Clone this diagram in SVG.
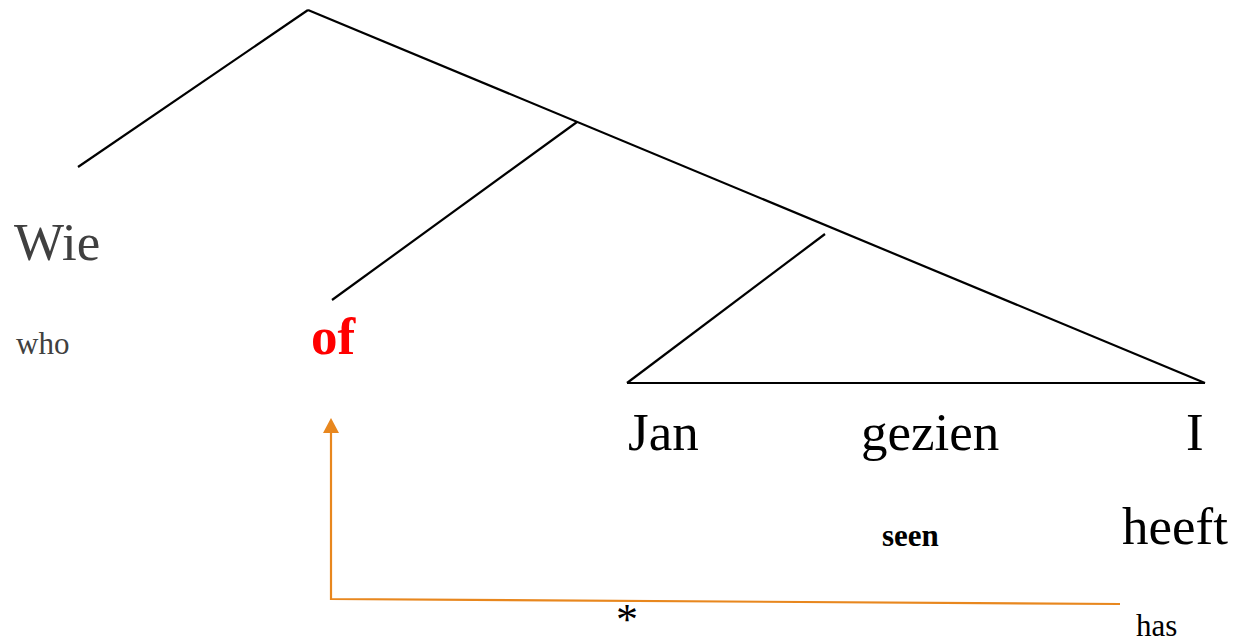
<svg xmlns="http://www.w3.org/2000/svg" width="1237" height="644" viewBox="0 0 1237 644">
<style>
.t{font-family:"Liberation Serif","Times New Roman",serif}
.big{font-size:53px}
.small{font-size:31px}
.edge{stroke:#000;stroke-width:2.2;fill:none}
.move{stroke:#E8871E;stroke-width:2.2;fill:none}
</style>
<rect width="1237" height="644" fill="#fff"/>
<g id="connectors">
<line class="edge" x1="308" y1="10" x2="78" y2="167"/>
<line class="edge" x1="308" y1="10" x2="1205" y2="383"/>
<line class="edge" x1="577" y1="122" x2="332" y2="300"/>
<line class="edge" x1="825" y1="234" x2="627" y2="383"/>
<line class="edge" x1="627" y1="383" x2="1205" y2="383"/>
<polyline class="move" points="1120,604 331,599 331,430"/>
<polygon points="331,418 323,433 339,433" fill="#E8871E"/>
</g>
<g id="node-wie"><text class="t big" x="14" y="260" fill="#404040">Wie</text></g>
<g id="node-who"><text class="t small" x="16" y="354" fill="#404040">who</text></g>
<g id="node-of"><text class="t big" x="311" y="354" fill="#ff0000" font-weight="bold">of</text></g>
<g id="node-jan"><text class="t big" x="628" y="450">Jan</text></g>
<g id="node-gezien"><text class="t big" x="861" y="450">gezien</text></g>
<g id="node-i"><text class="t big" x="1186" y="450">I</text></g>
<g id="node-seen"><text class="t small" x="882" y="546" font-weight="bold">seen</text></g>
<g id="node-heeft"><text class="t big" x="1122" y="544">heeft</text></g>
<g id="node-has"><text class="t small" x="1136" y="636">has</text></g>
<g id="node-star"><text class="t" x="616" y="634" font-size="44">*</text></g>
</svg>
